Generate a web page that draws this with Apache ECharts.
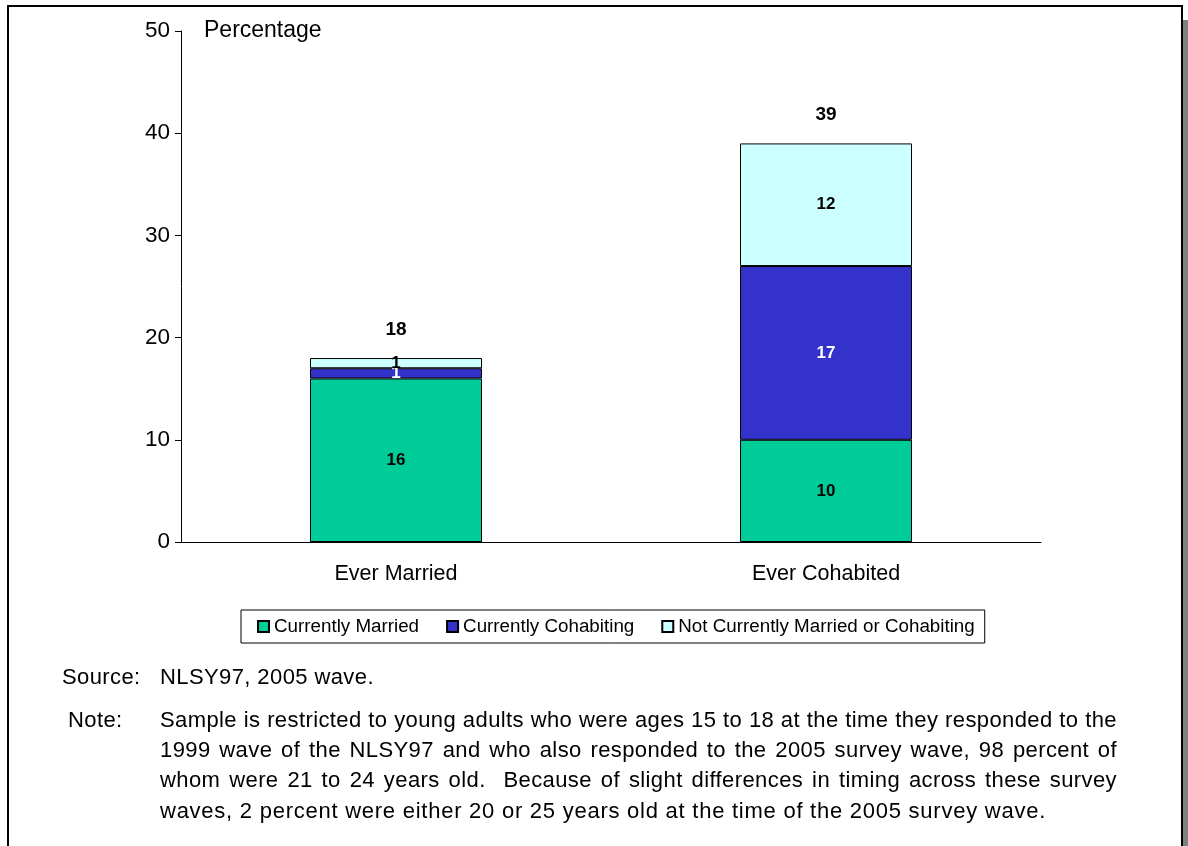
<!DOCTYPE html>
<html>
<head>
<meta charset="utf-8">
<script src="https://cdn.jsdelivr.net/npm/echarts@6/dist/echarts.min.js"></script>
<style>
    body { margin: 0; background: #fff; font-family: "Liberation Sans", Arial, sans-serif; }
    #wrap { position: relative; width: 1188px; height: 846px; overflow: hidden; }
    #frame {
        position: absolute; left: 7px; top: 5px; width: 1172px; height: 840px;
        border: 2px solid #000; border-bottom-color: #777;
        box-shadow: 5px 15px 0 #808080;
        background: #fff;
    }
    #chart { position: absolute; left: 0; top: 0; width: 1188px; height: 846px; }
    .lbl { position: absolute; font-size: 22px; color: #000; letter-spacing: 0.4px; }
    .line { position: absolute; left: 160px; width: 957px; font-size: 22px; color: #000;
            letter-spacing: 0.4px;
            text-align: justify; text-align-last: justify; white-space: nowrap; }
    .last { text-align: left; text-align-last: left; letter-spacing: 0.75px; }
</style>
</head>
<body>
<div id="wrap">
    <div id="frame"></div>
    <div id="chart"></div>
    <div class="lbl" style="left:62px; top:664px;">Source:</div>
    <div class="lbl" style="left:160px; top:664px;">NLSY97, 2005 wave.</div>
    <div class="lbl" style="left:68px; top:707px;">Note:</div>
    <div class="line" style="top:707px;">Sample is restricted to young adults who were ages 15 to 18 at the time they responded to the</div>
    <div class="line" style="top:737px;">1999 wave of the NLSY97 and who also responded to the 2005 survey wave, 98 percent of</div>
    <div class="line" style="top:767px;">whom were 21 to 24 years old.&nbsp; Because of slight differences in timing across these survey</div>
    <div class="line last" style="top:798px;">waves, 2 percent were either 20 or 25 years old at the time of the 2005 survey wave.</div>
</div>
<script>
var categories = ['Ever Married', 'Ever Cohabited'];
var currentlyMarried = [16, 10];
var currentlyCohabiting = [1, 17];
var notCurrently = [1, 12];
var totals = [18, 39];

var chart = echarts.init(document.getElementById('chart'));

var insideLabel = function (color) {
    return {
        show: true,
        position: 'inside',
        color: color,
        fontWeight: 'bold',
        fontSize: 17,
        fontFamily: 'Liberation Sans'
    };
};

var option = {
    backgroundColor: 'transparent',
    textStyle: { fontFamily: 'Liberation Sans' },
    animation: false,
    grid: { left: 181, right: 147, top: 31, bottom: 304 },
    legend: {
        data: ['Currently Married', 'Currently Cohabiting', 'Not Currently Married or Cohabiting'],
        icon: 'rect',
        left: 241,
        top: 610,
        itemWidth: 11,
        itemHeight: 11,
        itemGap: 27,
        padding: [7, 10, 7, 16],
        borderColor: '#000',
        borderWidth: 1,
        borderRadius: 0,
        textStyle: { fontSize: 18.8, color: '#000' }
    },
    xAxis: {
        type: 'category',
        data: categories,
        axisLine: { lineStyle: { color: '#000' } },
        axisTick: { length: 6, lineStyle: { color: '#000' } },
        axisLabel: { fontSize: 21.5, color: '#000', margin: 21 }
    },
    yAxis: {
        type: 'value',
        min: 0,
        max: 50,
        interval: 10,
        name: 'Percentage',
        nameLocation: 'end',
        nameGap: 0,
        nameTextStyle: { fontSize: 23, color: '#000', align: 'left', verticalAlign: 'middle', padding: [0, 0, 0, 23] },
        splitLine: { show: false },
        axisLine: { show: true, lineStyle: { color: '#000' } },
        axisTick: { show: true, length: 6, lineStyle: { color: '#000' } },
        axisLabel: { fontSize: 22.5, color: '#000', margin: 11 }
    },
    series: [
        {
            name: 'Currently Married',
            type: 'bar',
            stack: 'total',
            barWidth: '40%',
            data: currentlyMarried,
            itemStyle: { color: '#00CC99', borderColor: '#000', borderWidth: 1 },
            label: insideLabel('#000')
        },
        {
            name: 'Currently Cohabiting',
            type: 'bar',
            stack: 'total',
            data: currentlyCohabiting,
            itemStyle: { color: '#3333CC', borderColor: '#000', borderWidth: 1 },
            label: insideLabel('#fff')
        },
        {
            name: 'Not Currently Married or Cohabiting',
            type: 'bar',
            stack: 'total',
            data: notCurrently,
            itemStyle: { color: '#CCFFFF', borderColor: '#000', borderWidth: 1 },
            label: insideLabel('#000')
        },
        {
            name: 'Total',
            type: 'scatter',
            data: totals,
            symbolSize: 2,
            itemStyle: { color: 'rgba(0,0,0,0)', opacity: 1 },
            emphasis: { disabled: true },
            label: {
                show: true,
                position: 'top',
                distance: 18,
                color: '#000',
                opacity: 1,
                fontWeight: 'bold',
                fontSize: 19,
                fontFamily: 'Liberation Sans'
            }
        }
    ]
};

option && chart.setOption(option);
</script>
</body>
</html>
